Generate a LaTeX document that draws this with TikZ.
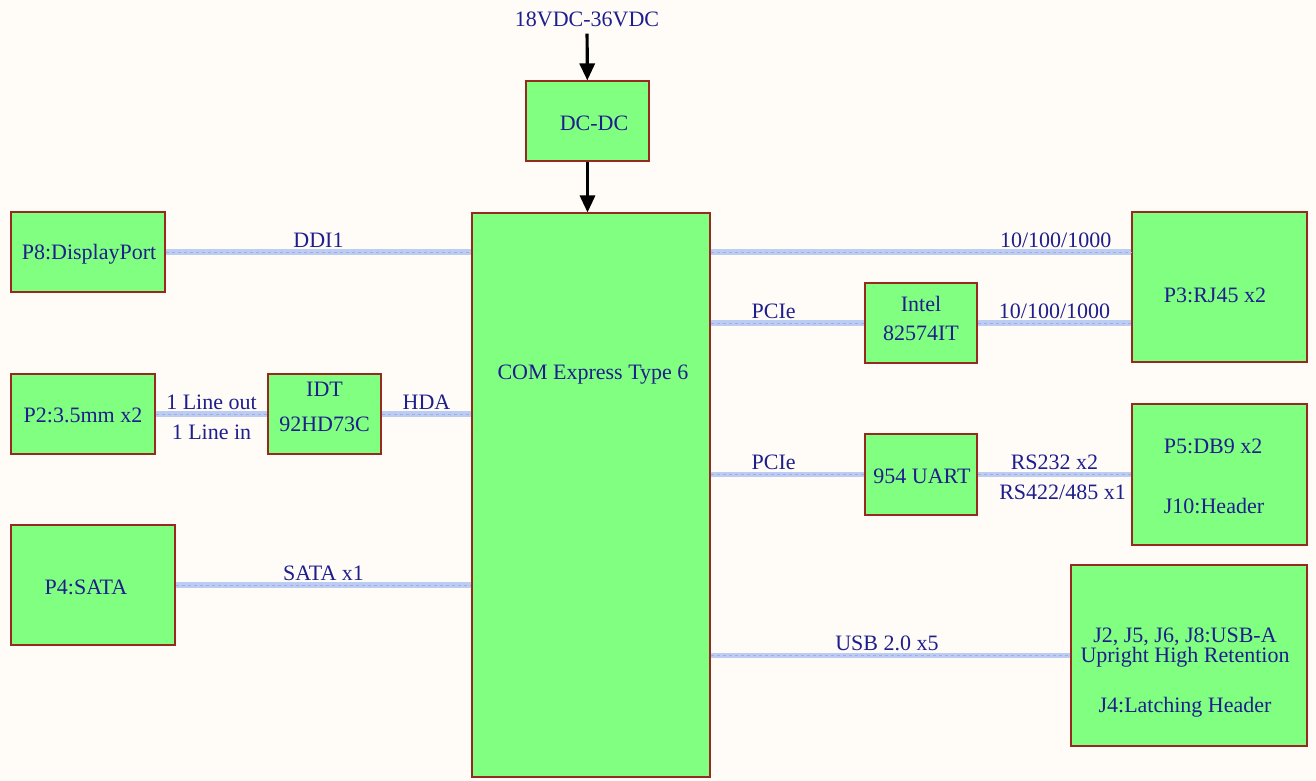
\documentclass[tikz,border=0pt]{standalone}
\usepackage{fontspec}
\setmainfont{Liberation Serif}
\usetikzlibrary{arrows.meta, positioning, calc}
\definecolor{bgcream}{HTML}{FFFCF7}
\definecolor{boxgreen}{HTML}{80FF80}
\definecolor{boxred}{HTML}{962A1E}
\definecolor{txtnavy}{HTML}{1E1E8C}
\definecolor{buslite}{HTML}{BCCCF2}
\definecolor{busdark}{HTML}{9CB0E2}

\begin{document}
\begin{tikzpicture}[
  x=0.5pt, y=-0.5pt,
  font=\fontsize{11}{13}\selectfont,
  every node/.style={align=center, text=txtnavy},
  box/.style={rectangle, draw=boxred, fill=boxgreen, line width=0.55pt, inner sep=2pt},
  bus/.style={draw=buslite, line width=2.6pt,
              postaction={draw=busdark, line width=0.35pt, dash pattern=on 1.5pt off 1.5pt}},
  pwr/.style={draw=black, line width=1.6pt, -{Triangle[length=8.5pt, width=7.5pt]}},
  lab/.style={inner sep=1pt},
]
% ---------- background ----------
\path[fill=bgcream] (0,0) rectangle (1316,781);

% ---------- power ----------
\node (vin) at (587,19) {18VDC-36VDC};
\node[box, minimum width=61.5pt, minimum height=40pt] (dcdc) at (587.5,121) {};
\node (dctxt) at (594,123) {DC-DC};

% ---------- module ----------
\node[box, minimum width=119pt, minimum height=282pt] (com) at (591,495) {};
\node (comtxt) at (593,375) {COM Express Type 6};

% ---------- left side ----------
\node[box, minimum width=77pt, minimum height=40pt] (p8) at (88,252) {};
\node (p8txt) at (89,254) {P8:DisplayPort};
\node[box, minimum width=72pt, minimum height=40pt] (p2) at (83,414) {};
\node (p2txt) at (83,415) {P2:3.5mm x2};
\node[box, minimum width=56.5pt, minimum height=40pt] (idt) at (324.5,414) {};
\node (idttxt) at (324.5,407) {IDT\\[4.5pt]92HD73C};
\node[box, minimum width=82pt, minimum height=60pt] (p4) at (93,585) {};
\node (p4txt) at (86,587) {P4:SATA};

% ---------- right side ----------
\node[box, minimum width=87.5pt, minimum height=75pt] (p3) at (1219.5,287) {};
\node (p3txt) at (1215,295) {P3:RJ45 x2};
\node[box, minimum width=56pt, minimum height=40pt] (intel) at (921,323) {};
\node (inteltxt) at (921,318) {Intel\\[1.5pt]82574IT};
\node[box, minimum width=56pt, minimum height=40.5pt] (uart) at (921,474.5) {};
\node (uarttxt) at (922,476) {954 UART};
\node[box, minimum width=87.5pt, minimum height=70.5pt] (p5) at (1219.5,474.5) {};
\node[align=left] (p5txt) at (1214,476) {P5:DB9 x2\\[17pt]J10:Header};
\node[box, minimum width=118pt, minimum height=90.5pt] (usb) at (1189,655.5) {};
\node (usbtxt) at (1185,673) {J2, J5, J6, J8:USB-A\\[-3pt]Upright High Retention\\[12pt]J4:Latching Header};

% ---------- arrows ----------
\draw[pwr] (vin) -- (dcdc);
\draw[pwr] (dcdc) -- (com.north -| dcdc);

% ---------- buses ----------
\draw[bus] (p8) -- node[lab, above] {DDI1} (p8 -| com.west);
\draw[bus] (p2) -- node[lab, above] {1 Line out} node[lab, below=3pt] {1 Line in} (idt);
\draw[bus] (idt) -- node[lab, above] {HDA} (idt -| com.west);
\draw[bus] (p4) -- node[lab, above] {SATA x1} (p4 -| com.west);

\draw[bus] (com.east |- p8) -- node[lab, above, pos=0.82] {10/100/1000} (p3.west |- p8);
\draw[bus] (com.east |- intel) -- node[lab, above, pos=0.41] {PCIe} (intel);
\draw[bus] (intel) -- node[lab, above] {10/100/1000} (intel -| p3.west);
\draw[bus] (com.east |- uart) -- node[lab, above, pos=0.41] {PCIe} (uart);
\draw[bus] (uart) -- node[lab, above] {RS232 x2} node[lab, below=3pt, xshift=4pt] {RS422/485 x1} (uart -| p5.west);
\draw[bus] (com.east |- usb) -- node[lab, above, pos=0.49] {USB 2.0 x5} (usb);

\end{tikzpicture}
\end{document}
